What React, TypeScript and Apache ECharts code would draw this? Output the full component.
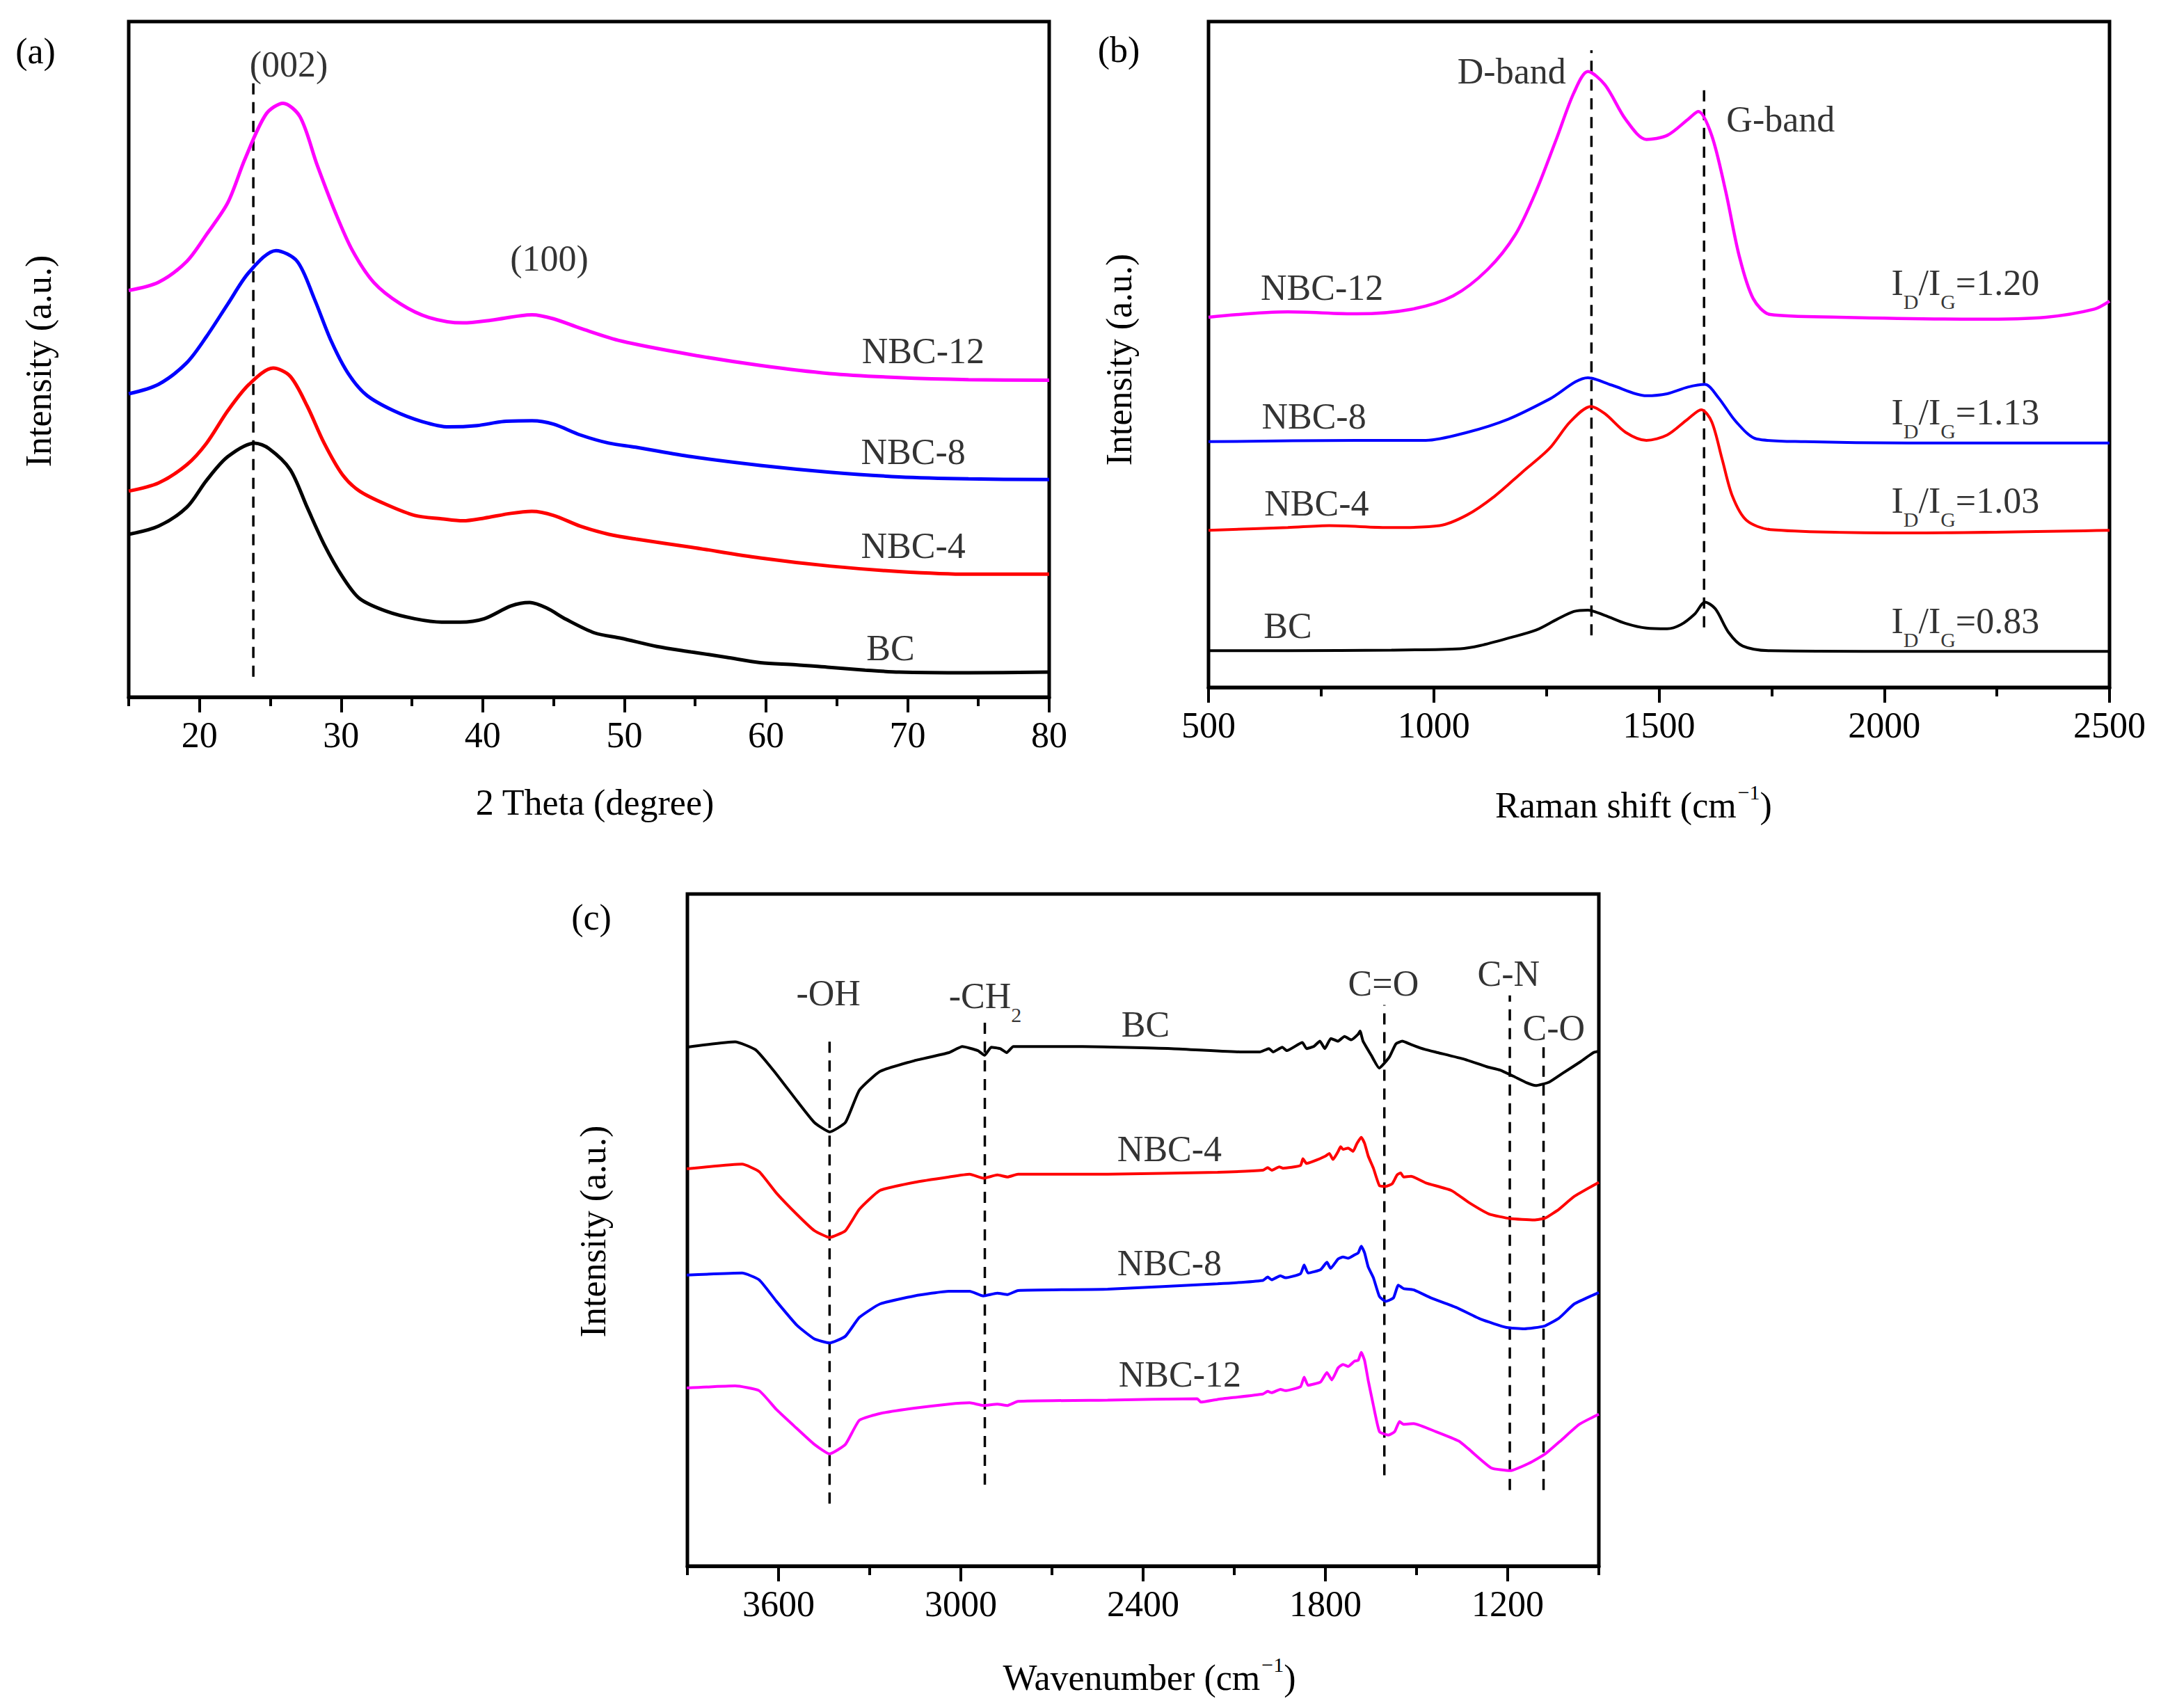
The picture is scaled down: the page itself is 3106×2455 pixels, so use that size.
import React, { useEffect, useRef } from 'react';
import * as echarts from 'echarts';

type Pt = [number, number];
type Note = [number, number, string];

// intensities are in "a.u.": 0..100 of each frame's height

// (a) XRD, 2 theta (degree)
const xrdBC: Pt[] = [
  [15, 24.1], [17.1, 25.3], [19.1, 28.1], [20.5, 32.1], [22, 35.6], [23.9, 37.6], [24.9, 36.8],
  [26.4, 33.7], [27.6, 28.1], [28.8, 22.6], [30.1, 17.8], [31.3, 14.6], [33.2, 12.7], [35.2, 11.6],
  [37.1, 11.1], [38.4, 11.1], [40.1, 11.6], [42, 13.5], [43.3, 14.0], [44.5, 13.2], [45.9, 11.5],
  [47.9, 9.5], [49.8, 8.7], [52.3, 7.5], [54.7, 6.7], [57.2, 5.9], [59.6, 5.1], [62.1, 4.8],
  [64.5, 4.4], [67, 4.0], [69.4, 3.7], [74.3, 3.6], [80, 3.7],
];
const xrdNBC4: Pt[] = [
  [15, 30.5], [17.1, 31.7], [19.1, 34.4], [20.5, 37.6], [22, 42.4], [23.5, 46.3], [25.2, 48.7],
  [26.4, 47.5], [27.6, 43.1], [28.8, 37.6], [30.1, 32.9], [31.3, 30.5], [33.2, 28.5], [35.2, 26.9],
  [37.1, 26.4], [38.6, 26.1], [40.1, 26.5], [42, 27.2], [43.5, 27.5], [45, 26.9], [46.9, 25.3],
  [48.9, 24.1], [50.8, 23.4], [54.7, 22.2], [59.6, 20.6], [64.5, 19.4], [69.4, 18.6], [74.3, 18.2],
  [80, 18.2],
];
const xrdNBC8: Pt[] = [
  [15, 44.9], [17.1, 46.3], [19.1, 49.5], [20.5, 53.4], [22, 58.2], [23.5, 62.9], [25.4, 66.1],
  [26.9, 64.5], [28.1, 59.0], [29.3, 52.7], [30.5, 47.9], [31.8, 44.7], [33.7, 42.4], [35.7, 40.8],
  [37.6, 40.0], [39.6, 40.2], [41.5, 40.8], [43.5, 40.9], [45, 40.4], [46.9, 38.8], [48.9, 37.6],
  [50.8, 37.0], [54.7, 35.6], [59.6, 34.3], [64.5, 33.3], [69.4, 32.6], [74.3, 32.3], [80, 32.2],
];
const xrdNBC12: Pt[] = [
  [15, 60.2], [17.1, 61.4], [19.1, 64.5], [20.5, 68.5], [22, 73.2], [23.2, 79.6], [24.7, 86.3],
  [25.9, 87.9], [27.1, 85.9], [28.3, 78.8], [29.6, 71.7], [30.8, 66.1], [32.3, 61.4], [34.2, 58.2],
  [36.2, 56.2], [38.6, 55.4], [40.6, 55.8], [43.5, 56.6], [45, 56.0], [46.9, 54.6], [49.8, 52.7],
  [54.7, 50.7], [59.6, 49.1], [64.5, 47.9], [69.4, 47.3], [74.3, 47.0], [80, 46.9],
];
const xrdMajorTicks = [20, 30, 40, 50, 60, 70, 80];
const xrdMinorTicks = [15, 25, 35, 45, 55, 65, 75];
const xrdGuides: Pt[][] = [[[23.8, 3.0], [23.8, 91.4]]];
const xrdNotes: Note[] = [
  [26.3, 93.7, '(002)'], [44.7, 64.9, '(100)'],
  [71.1, 51.2, 'NBC-12'], [70.4, 36.3, 'NBC-8'], [70.4, 22.4, 'NBC-4'], [68.8, 7.3, 'BC'],
];

// (b) Raman, shift (cm-1)
const ramanBC: Pt[] = [
  [500, 5.5], [676, 5.5], [906, 5.6], [1059, 5.8], [1104, 6.3], [1166, 7.4], [1227, 8.6],
  [1273, 10.2], [1311, 11.4], [1342, 11.6], [1380, 10.8], [1426, 9.6], [1472, 8.9], [1518, 8.8],
  [1548, 9.4], [1579, 11.0], [1602, 12.8], [1625, 11.8], [1655, 8.2], [1686, 6.2], [1747, 5.5],
  [2053, 5.4], [2500, 5.4],
];
const ramanNBC4: Pt[] = [
  [500, 23.6], [676, 24.0], [768, 24.3], [906, 24.0], [1013, 24.3], [1074, 25.9], [1135, 28.7],
  [1196, 32.3], [1257, 35.9], [1303, 39.9], [1349, 42.2], [1380, 41.1], [1426, 38.3], [1472, 37.1],
  [1518, 37.9], [1564, 40.3], [1594, 41.7], [1617, 39.9], [1640, 34.3], [1663, 28.7], [1694, 25.1],
  [1747, 23.7], [2053, 23.2], [2500, 23.6],
];
const ramanNBC8: Pt[] = [
  [500, 36.9], [829, 37.1], [982, 37.1], [1074, 38.3], [1166, 40.3], [1257, 43.3], [1342, 46.5],
  [1395, 45.4], [1472, 43.8], [1518, 44.1], [1564, 45.1], [1602, 45.5], [1632, 43.5], [1671, 39.9],
  [1717, 37.3], [1824, 36.9], [2053, 36.7], [2500, 36.7],
];
const ramanNBC12: Pt[] = [
  [500, 55.6], [676, 56.4], [829, 56.1], [951, 56.8], [1043, 58.8], [1120, 62.8], [1181, 68.0],
  [1227, 74.5], [1273, 82.5], [1311, 89.3], [1342, 92.5], [1380, 90.5], [1426, 85.3], [1472, 82.3],
  [1518, 82.9], [1564, 85.3], [1587, 86.5], [1617, 82.9], [1648, 74.5], [1678, 64.8], [1709, 58.4],
  [1747, 56.0], [1900, 55.6], [2206, 55.3], [2359, 55.6], [2466, 56.8], [2500, 58.0],
];
const ramanMajorTicks = [500, 1000, 1500, 2000, 2500];
const ramanMinorTicks = [750, 1250, 1750, 2250];
const ramanGuides: Pt[][] = [[[1350, 7.8], [1350, 95.7]], [[1600, 9.0], [1600, 89.7]]];
const ramanNotes: Note[] = [
  [1173, 92.5, 'D-band'], [1770, 85.3, 'G-band'],
  [752, 60.0, 'NBC-12'], [734, 40.7, 'NBC-8'], [740, 27.6, 'NBC-4'], [676, 9.2, 'BC'],
];
const ramanRatios: Note[] = [
  [2015, 61.0, '1.20'], [2015, 41.5, '1.13'], [2015, 28.3, '1.03'], [2015, 10.2, '0.83'],
];

// (c) FTIR, wavenumber (cm-1)
const ftirBC: Pt[] = [
  [3902, 77.2], [3743, 78.0], [3675, 76.8], [3607, 73.2], [3539, 69.2], [3482, 66.0], [3432, 64.6],
  [3380, 66.0], [3334, 70.8], [3266, 73.6], [3153, 75.2], [3039, 76.4], [2995, 77.3], [2944, 76.7],
  [2922, 76.0], [2900, 77.2], [2871, 77.0], [2849, 76.4], [2827, 77.3], [2600, 77.3], [2308, 77.0],
  [2074, 76.5], [2016, 76.5], [1986, 77.0], [1972, 76.5], [1942, 77.2], [1927, 76.7], [1876, 77.9],
  [1862, 77.0], [1839, 77.3], [1818, 78.1], [1802, 77.0], [1782, 78.5], [1759, 78.1], [1737, 78.8],
  [1715, 78.3], [1693, 79.1], [1686, 79.6], [1676, 78.1], [1649, 76.0], [1623, 74.1], [1590, 75.7],
  [1568, 77.7], [1547, 78.1], [1518, 77.6], [1474, 76.9], [1430, 76.4], [1342, 75.4], [1269, 74.3],
  [1225, 73.8], [1182, 72.9], [1137, 71.9], [1108, 71.5], [1064, 72.0], [1020, 73.3], [962, 75.0],
  [918, 76.4], [900, 76.6],
];
const ftirNBC4: Pt[] = [
  [3902, 59.1], [3720, 59.8], [3664, 58.7], [3607, 55.5], [3539, 52.3], [3482, 49.9], [3432, 48.9],
  [3380, 49.9], [3334, 53.1], [3266, 55.9], [3153, 57.1], [3039, 57.9], [2971, 58.3], [2926, 57.7],
  [2880, 58.2], [2846, 57.9], [2812, 58.3], [2517, 58.3], [2155, 58.6], [2006, 58.9], [1990, 59.3],
  [1977, 58.9], [1952, 59.4], [1940, 59.2], [1882, 59.6], [1874, 60.6], [1862, 59.9], [1841, 60.2],
  [1800, 61.0], [1787, 61.4], [1775, 60.5], [1758, 61.7], [1750, 62.4], [1742, 62.0], [1725, 62.2],
  [1709, 61.7], [1696, 62.9], [1682, 63.8], [1671, 62.9], [1659, 61.0], [1642, 59.2], [1622, 56.6],
  [1601, 56.5], [1580, 56.9], [1564, 58.2], [1552, 58.5], [1543, 57.9], [1518, 58.0], [1469, 57.0],
  [1386, 55.9], [1328, 54.1], [1262, 52.4], [1192, 51.7], [1113, 51.5], [1076, 51.8], [1031, 53.1],
  [981, 55.0], [900, 57.1],
];
const ftirNBC8: Pt[] = [
  [3902, 43.3], [3720, 43.6], [3664, 42.6], [3607, 39.4], [3539, 35.8], [3482, 33.8], [3432, 33.2],
  [3380, 34.2], [3334, 37.0], [3266, 39.0], [3153, 40.2], [3039, 40.9], [2971, 40.9], [2926, 40.2],
  [2880, 40.6], [2846, 40.4], [2812, 41.0], [2517, 41.2], [2155, 42.0], [2006, 42.5], [1990, 43.0],
  [1977, 42.6], [1948, 43.2], [1932, 42.9], [1882, 43.5], [1870, 44.8], [1857, 43.6], [1816, 44.1],
  [1795, 45.2], [1783, 44.3], [1758, 45.7], [1742, 46.0], [1725, 45.8], [1704, 46.3], [1692, 46.6],
  [1682, 47.6], [1671, 46.6], [1659, 44.5], [1642, 42.9], [1622, 40.1], [1601, 39.4], [1576, 39.9],
  [1560, 41.8], [1543, 41.3], [1510, 41.1], [1452, 39.9], [1370, 38.5], [1287, 36.7], [1204, 35.5],
  [1146, 35.3], [1080, 35.7], [1031, 36.9], [981, 39.0], [900, 40.7],
];
const ftirNBC12: Pt[] = [
  [3902, 26.5], [3743, 26.8], [3664, 26.1], [3607, 23.3], [3550, 20.9], [3482, 18.1], [3432, 16.7],
  [3380, 18.1], [3334, 21.7], [3266, 22.7], [3153, 23.5], [3039, 24.1], [2971, 24.3], [2926, 23.9],
  [2880, 24.1], [2846, 23.9], [2812, 24.5], [2517, 24.7], [2222, 24.9], [2210, 24.4], [2155, 24.8],
  [2006, 25.6], [1990, 26.0], [1977, 25.8], [1948, 26.3], [1932, 26.1], [1882, 26.7], [1870, 28.1],
  [1857, 26.9], [1816, 27.4], [1795, 28.8], [1779, 27.7], [1758, 29.5], [1742, 30.0], [1725, 29.7],
  [1704, 30.5], [1692, 30.6], [1682, 31.8], [1671, 30.6], [1659, 27.6], [1642, 23.9], [1622, 20.0],
  [1593, 19.5], [1572, 20.0], [1556, 21.5], [1543, 21.1], [1510, 21.2], [1436, 20.0], [1361, 18.6],
  [1328, 17.4], [1254, 14.6], [1192, 14.2], [1130, 15.3], [1076, 16.7], [1022, 18.8], [964, 21.1],
  [900, 22.6],
];
const ftirMajorTicks = [3600, 3000, 2400, 1800, 1200];
const ftirMinorTicks = [3900, 3300, 2700, 2100, 1500, 900];
const ftirGuides: Pt[][] = [
  [[3432, 9.3], [3432, 78.8]], [[2921, 12.1], [2921, 81.7]], [[1606, 13.5], [1606, 83.5]],
  [[1193, 11.3], [1193, 84.9]], [[1082, 11.3], [1082, 77.2]],
];
const ftirNotes: Note[] = [
  [3436, 85.3, '-OH'], [1609, 86.7, 'C=O'], [1197, 88.1, 'C-N'], [1048, 80.1, 'C-O'],
  [2392, 80.6, 'BC'], [2313, 62.1, 'NBC-4'], [2313, 45.1, 'NBC-8'], [2279, 28.5, 'NBC-12'],
];
const ftirSubNotes: Note[] = [[2920, 85.3, '{m|-CH}{s|2}']];

const MAGENTA = '#ff00ff';
const BLUE = '#0000ff';
const RED = '#ff0000';
const BLACK = '#000000';
const SERIF = "'Liberation Serif', 'Times New Roman', serif";
const FS = 52;

const RICH = {
  m: { fontSize: FS, fontFamily: SERIF, color: BLACK, lineHeight: 56, verticalAlign: 'top' },
  s: { fontSize: 30, fontFamily: SERIF, color: BLACK, lineHeight: 34, padding: [38, 0, 0, 0], verticalAlign: 'top' },
  n: { fontSize: FS, fontFamily: SERIF, color: BLACK, lineHeight: 56, padding: [8, 0, 0, 0], verticalAlign: 'top' },
  p: { fontSize: 30, fontFamily: SERIF, color: BLACK, lineHeight: 30, padding: [0, 0, 0, 2], verticalAlign: 'top' },
};

const majorAxis = (gridIndex: number, min: number, max: number, ticks: number[], inverse = false) => ({
  type: 'value', gridIndex, min, max, inverse, position: 'bottom',
  axisLine: { show: true, onZero: false, lineStyle: { color: BLACK, width: 5 } },
  axisTick: { show: true, length: 22, lineStyle: { color: BLACK, width: 4 }, customValues: ticks },
  axisLabel: {
    show: true, customValues: ticks, margin: 28, fontSize: FS, fontFamily: SERIF, color: BLACK,
    formatter: (v: number) => String(v),
  },
  splitLine: { show: false },
});

const minorAxis = (gridIndex: number, min: number, max: number, ticks: number[], inverse = false) => ({
  type: 'value', gridIndex, min, max, inverse, position: 'bottom',
  axisLine: { show: false, onZero: false },
  axisTick: { show: true, length: 13, lineStyle: { color: BLACK, width: 4 }, customValues: ticks },
  axisLabel: { show: false },
  splitLine: { show: false },
});

const curve = (axis: number, data: Pt[], color: string, width: number, smooth: number) => ({
  type: 'line', xAxisIndex: axis * 2, yAxisIndex: axis, data, symbol: 'none', showSymbol: false,
  smooth, lineStyle: { color, width }, itemStyle: { color }, silent: true, z: 3,
});

const guides = (axis: number, lines: Pt[][]) => lines.map((data) => ({
  type: 'line', xAxisIndex: axis * 2, yAxisIndex: axis, data, symbol: 'none', silent: true, z: 2,
  lineStyle: { color: BLACK, width: 3.5, type: [16, 11] },
}));

const notes = (axis: number, items: Note[], extra: object = {}) => ({
  type: 'scatter', xAxisIndex: axis * 2, yAxisIndex: axis, symbolSize: 1, silent: true, z: 5,
  itemStyle: { color: 'rgba(0,0,0,0)' },
  data: items.map(([x, y, t]) => ({ value: [x, y], name: t })),
  label: {
    show: true, position: 'inside', formatter: (p: any) => p.name,
    fontSize: FS, fontFamily: SERIF, color: BLACK, textBorderWidth: 0, rich: RICH, ...extra,
  },
});

const txt = (x: number, y: number, text: string, rotation = 0) => ({
  type: 'text', x, y, rotation, silent: true,
  style: {
    text, fill: BLACK, fontSize: FS, fontFamily: SERIF, align: 'center', verticalAlign: 'middle', rich: RICH,
  },
});

const frame = { show: true, borderColor: BLACK, borderWidth: 5, backgroundColor: 'transparent' };

const option: any = {
  animation: false,
  backgroundColor: '#ffffff',
  grid: [
    { left: 185, top: 31, width: 1323, height: 971, ...frame },
    { left: 1737, top: 31, width: 1295, height: 957, ...frame },
    { left: 988, top: 1285, width: 1310, height: 966, ...frame },
  ],
  xAxis: [
    majorAxis(0, 15, 80, xrdMajorTicks), minorAxis(0, 15, 80, xrdMinorTicks),
    majorAxis(1, 500, 2500, ramanMajorTicks), minorAxis(1, 500, 2500, ramanMinorTicks),
    majorAxis(2, 900, 3900, ftirMajorTicks, true), minorAxis(2, 900, 3900, ftirMinorTicks, true),
  ],
  yAxis: [0, 1, 2].map((g) => ({ type: 'value', gridIndex: g, min: 0, max: 100, show: false })),
  series: [
    curve(0, xrdNBC12, MAGENTA, 5, 0.3), curve(0, xrdNBC8, BLUE, 5, 0.3),
    curve(0, xrdNBC4, RED, 5, 0.3), curve(0, xrdBC, BLACK, 5, 0.3),
    ...guides(0, xrdGuides), notes(0, xrdNotes),
    curve(1, ramanNBC12, MAGENTA, 4.5, 0.3), curve(1, ramanNBC8, BLUE, 4, 0.3),
    curve(1, ramanNBC4, RED, 4, 0.3), curve(1, ramanBC, BLACK, 4, 0.3),
    ...guides(1, ramanGuides), notes(1, ramanNotes),
    notes(1, ramanRatios.map(([x, y, r]) => [x, y, `{m|I}{s|D}{m|/I}{s|G}{m|=${r}}`] as Note),
      { position: 'right', distance: 0, offset: [0, 4] }),
    curve(2, ftirBC, BLACK, 4, 0.15), curve(2, ftirNBC4, RED, 4, 0.15),
    curve(2, ftirNBC8, BLUE, 4, 0.15), curve(2, ftirNBC12, MAGENTA, 4, 0.15),
    ...guides(2, ftirGuides), notes(2, ftirNotes), notes(2, ftirSubNotes, { offset: [0, 6] }),
  ],
  graphic: [
    txt(51, 73, '(a)'), txt(1608, 71, '(b)'), txt(850, 1318, '(c)'),
    txt(55, 519, 'Intensity (a.u.)', Math.PI / 2),
    txt(1608, 517, 'Intensity (a.u.)', Math.PI / 2),
    txt(852, 1770, 'Intensity (a.u.)', Math.PI / 2),
    txt(855, 1153, '2 Theta (degree)'),
    txt(2348, 1151, '{n|Raman shift (cm}{p|−1}{n|)}'),
    txt(1652, 2405, '{n|Wavenumber (cm}{p|−1}{n|)}'),
  ],
};

export default function App() {
  const ref = useRef<HTMLDivElement>(null);
  useEffect(() => {
    if (!ref.current) return;
    const chart = echarts.init(ref.current, undefined, { renderer: 'svg' });
    chart.setOption(option);
    return () => chart.dispose();
  }, []);
  return (
    <div
      ref={ref}
      style={{ position: 'fixed', left: 0, top: 0, width: 3106, height: 2455, background: '#fff' }}
    />
  );
}
